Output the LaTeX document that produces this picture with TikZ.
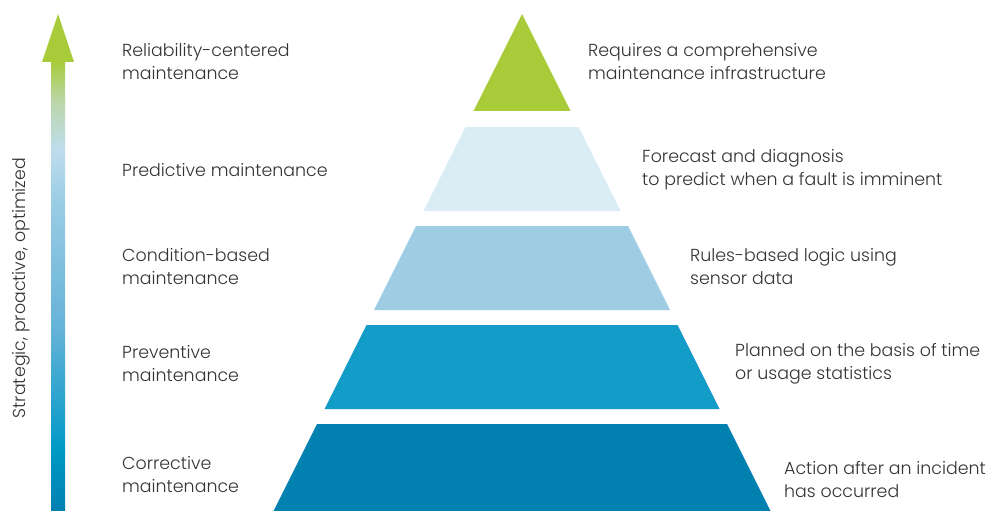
\documentclass[tikz,border=0pt]{standalone}
\usepackage{fontspec}
\setmainfont{Poppins}[UprightFont=* Light]
\usepackage{tikz}
\usetikzlibrary{positioning}

\definecolor{txtgray}{HTML}{333333}
\definecolor{lvlA}{HTML}{A8CB3A}
\definecolor{lvlB}{HTML}{DAECF4}
\definecolor{lvlC}{HTML}{9DCCE3}
\definecolor{lvlD}{HTML}{139CC8}
\definecolor{lvlE}{HTML}{0280B0}
\definecolor{arrA}{HTML}{0080B0}
\definecolor{arrB}{HTML}{0099C6}
\definecolor{arrC}{HTML}{64B2D8}
\definecolor{arrD}{HTML}{9BCDE4}
\definecolor{arrE}{HTML}{BEDDEE}
\definecolor{arrF}{HTML}{BBD6A6}

\tikzset{
  lbl/.style={anchor=west, align=left, inner sep=0pt, text=txtgray,
    font=\fontsize{17.4}{23}\selectfont},
}

\begin{document}
\begin{tikzpicture}[x=1pt, y=-1pt]
  \useasboundingbox (0,0) rectangle (997,511);

  % arrow on the left
  \shade[bottom color=arrA, top color=arrB] (51,511) rectangle (65,450);
  \shade[bottom color=arrB, top color=arrC] (51,450.5) rectangle (65,330);
  \shade[bottom color=arrC, top color=arrD] (51,330.5) rectangle (65,200);
  \shade[bottom color=arrD, top color=arrE] (51,200.5) rectangle (65,150);
  \shade[bottom color=arrE, top color=arrF] (51,150.5) rectangle (65,100);
  \shade[bottom color=arrF, top color=lvlA] (51,100.5) rectangle (65,61);
  \fill[lvlA] (42,62) -- (58,14) -- (74,62) -- cycle;
  \node[rotate=90, inner sep=0pt, text=txtgray, font=\fontsize{17.4}{20}\selectfont]
    (axis) at (21,288) {Strategic, proactive, optimized};

  % pyramid
  \fill[lvlA] (522,14) -- (570.5,111) -- (473.5,111) -- cycle;
  \fill[lvlB] (465.5,127) -- (578.5,127) -- (620.5,211) -- (423.5,211) -- cycle;
  \fill[lvlC] (416,226) -- (628,226) -- (670,310) -- (374,310) -- cycle;
  \fill[lvlD] (366.5,325) -- (677.5,325) -- (719.5,409) -- (324.5,409) -- cycle;
  \fill[lvlE] (317,424) -- (727,424) -- (770.5,511) -- (273.5,511) -- cycle;

  % left labels
  \node[lbl] (rcm) at (122,61.5) {Reliability-centered\\maintenance};
  \node[lbl] (pdm) at (122,170) {Predictive maintenance};
  \node[lbl] (cbm) at (122,267) {Condition-based\\maintenance};
  \node[lbl] (pvm) at (122,364) {Preventive\\maintenance};
  \node[lbl] (crm) at (122,475) {Corrective\\maintenance};

  % right labels
  \node[lbl] (rcmtxt) at (588,61.5) {Requires a comprehensive\\maintenance infrastructure};
  \node[lbl] (pdmtxt) at (642,170) {Forecast and diagnosis\\to predict when a fault is imminent};
  \node[lbl] (cbmtxt) at (690,267) {Rules-based logic using\\sensor data};
  \node[lbl] (pvmtxt) at (735,364) {Planned on the basis of time\\or usage statistics};
  \node[lbl] (crmtxt) at (784,479) {Action after an incident\\has occurred};
\end{tikzpicture}
\end{document}
